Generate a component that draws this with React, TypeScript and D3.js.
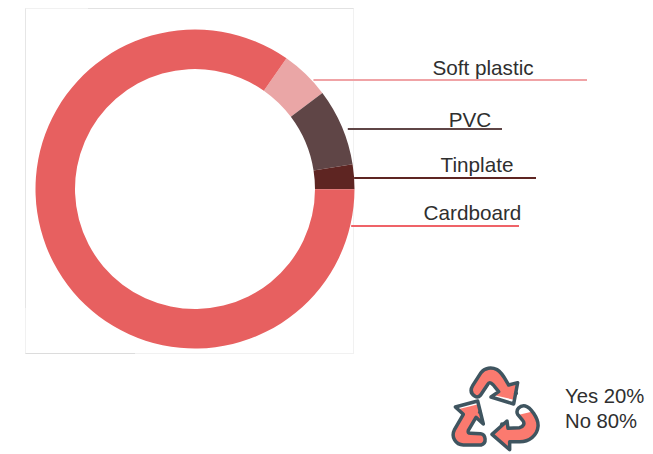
import React from "react";
import * as d3 from "d3";

const categories = ["Soft plastic", "PVC", "Tinplate", "Cardboard"];
const shares = [5, 7.8, 2.5, 84.7];
const sliceColors = ["#eaa6a6", "#5f4546", "#5e2522", "#e76060"];
const leaderColors = ["#f0a3a6", "#5f4546", "#5e2522", "#ef6368"];
const recycleNotes = ["Yes 20%", "No 80%"];

const WIDTH = 653;
const HEIGHT = 454;
const CX = 195;
const CY = 189;
const OUTER = 159.5;
const INNER = 120;
const START = (35 * Math.PI) / 180;

// Leader rows: y of the rule, where it ends, centre and baseline of its caption, gap from the ring
const leaderY = [80, 129, 178, 226];
const leaderEnd = [587, 502, 536, 519];
const captionX = [483, 470, 477, 472.5];
const captionY = [75, 127, 172, 220];
const leaderGap = [2, 5, 0, 1];

// Recycling mark, drawn in a 3x local grid. Each arrow has an outline and a pale tip
// (the unfilled end of the arrow) that is clipped to that outline.
const ICON_STROKE = "#3f5560";
const ICON_FILL = "#fb7a6f";
const arrows = [
  {
    d: "M105,124 C93,116 90,105 98,92 L123,53 C134,38 155,36 171,44 C186,52 196,73 206,90 L233,83 L221,147 L153,126 L176,110 L160,90 C151,81 147,82 142,90 L122,120 C116,127 110,127 105,124 Z",
    tip: "M150,118 L225,135 L225,155 L150,135 Z",
  },
  {
    d: "M46,156 L113,138 L130,207 L108,187 L85,226 C83,233 85,235 92,235 L122,236 C137,238 142,264 123,270 L70,270 C46,270 33,245 43,225 L70,178 Z",
    tip: "M38,148 L115,130 L118,147 L45,165 Z",
  },
  {
    d: "M156,238 L201,198 L204,220 L238,218 C250,216 256,205 248,196 L233,178 C226,164 240,150 256,153 C270,156 297,190 294,215 C292,242 266,260 240,260 L209,260 L209,284 Z",
    tip: "M225,143 L275,143 L275,170 L225,182 Z",
  },
];
// Small breaks in the outline beside each arrow head, closed off with a dot
const iconDots = [
  [228, 115],
  [120, 172],
  [186, 208],
];

export default function App() {
  const pie = d3
    .pie<number>()
    .sort(null)
    .startAngle(START)
    .endAngle(START + 2 * Math.PI);
  const arc = d3.arc<d3.PieArcDatum<number>>().innerRadius(INNER).outerRadius(OUTER);
  const slices = pie(shares);

  return (
    <svg
      width={WIDTH}
      height={HEIGHT}
      viewBox={`0 0 ${WIDTH} ${HEIGHT}`}
      style={{ position: "absolute", left: 0, top: 0, background: "#fff" }}
      fontFamily="'Liberation Sans', Arial, sans-serif"
    >
      {/* thin plot frame */}
      <g fill="none" strokeWidth={1}>
        <rect x={25.5} y={8.5} width={328} height={345} stroke="#f1f1f1" />
        <path d="M88,8.5H353.5" stroke="#e2e2e2" />
        <path d="M25.5,308V8.5" stroke="#e6e6e6" />
        <path d="M25.5,353.5H135" stroke="#dcdcdc" />
      </g>

      <g transform={`translate(${CX},${CY})`}>
        {slices.map((s, i) => (
          <path key={categories[i]} d={arc(s) ?? ""} fill={sliceColors[i]} />
        ))}
      </g>

      {categories.map((name, i) => {
        const dy = leaderY[i] - CY;
        const x0 = CX + Math.sqrt(OUTER * OUTER - dy * dy) + leaderGap[i];
        return (
          <g key={name}>
            <line
              x1={x0}
              x2={leaderEnd[i]}
              y1={leaderY[i]}
              y2={leaderY[i]}
              stroke={leaderColors[i]}
              strokeWidth={1.9}
            />
            <text
              x={captionX[i]}
              y={captionY[i]}
              textAnchor="middle"
              fontSize={20.7}
              fill="#2f2f2f"
            >
              {name}
            </text>
          </g>
        );
      })}

      {/* recycling mark */}
      <g transform="translate(440,355) scale(0.3333)">
        <defs>
          {arrows.map((a, i) => (
            <clipPath key={i} id={`arrow-clip-${i}`}>
              <path d={a.d} />
            </clipPath>
          ))}
        </defs>
        {arrows.map((a, i) => (
          <g key={i}>
            <path d={a.d} fill={ICON_FILL} />
            <path d={a.tip} fill="#fff" clipPath={`url(#arrow-clip-${i})`} />
            <path d={a.d} fill="none" stroke={ICON_STROKE} strokeWidth={10.5} strokeLinejoin="round" />
          </g>
        ))}
        {iconDots.map(([x, y]) => (
          <circle key={`${x}-${y}`} cx={x} cy={y} r={6} fill={ICON_STROKE} />
        ))}
      </g>

      {recycleNotes.map((t, i) => (
        <text key={t} x={565} y={403 + i * 25} fontSize={20.3} fill="#2f2f2f">
          {t}
        </text>
      ))}
    </svg>
  );
}
